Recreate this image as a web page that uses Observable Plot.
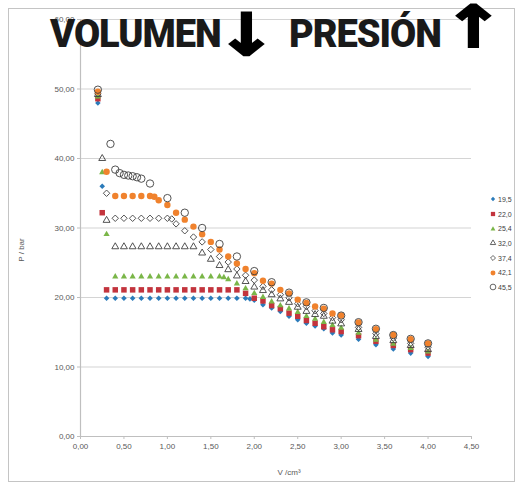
<!DOCTYPE html>
<html><head><meta charset="utf-8">
<script src="https://cdn.jsdelivr.net/npm/d3@7"></script>
<script src="https://cdn.jsdelivr.net/npm/@observablehq/plot@0.6"></script>
<style>
body{margin:0;background:#fff;}
#wrap{position:relative;width:520px;height:482px;overflow:hidden;background:#fff;}
#chart{position:absolute;left:0;top:0;}
#frame{position:absolute;left:8px;top:8px;width:507px;height:474px;border:1.5px solid #c4c4c4;box-sizing:border-box;pointer-events:none;}
.tt{position:absolute;font-family:Roboto,'Noto Sans',sans-serif;font-weight:900;font-size:38px;line-height:38px;color:#1a1a1a;letter-spacing:-1px;white-space:nowrap;}
.ar{position:absolute;font-family:'DejaVu Sans',sans-serif;font-weight:bold;font-size:58px;line-height:30px;color:#000;-webkit-text-stroke:2.2px #000;transform:scaleX(1.25);transform-origin:center;}
.lab{position:absolute;font-family:'Liberation Sans',Arial,sans-serif;font-size:8px;color:#595959;white-space:nowrap;}
#legend{position:absolute;left:489px;top:192px;font-family:'Liberation Sans',Arial,sans-serif;font-size:7px;color:#404040;}
#legend .row{display:flex;align-items:center;height:14.7px;}
#legend svg{width:8px;height:8px;margin-right:1px;overflow:visible;}
</style></head><body>
<div id="wrap">
  <div id="chart"></div>
  <div id="frame"></div>
  <div id="legend"></div>
  <div class="lab" id="ylab" style="left:21px;top:250px;transform:translate(-50%,-50%) rotate(-90deg);">P / bar</div>
  <div class="lab" id="xlab" style="left:289px;top:472px;transform:translate(-50%,-50%);">V /cm³</div>
  <div class="tt" style="left:50px;top:15px;">VOLUMEN</div>
  <div class="ar" style="left:222px;top:19.5px;">↓</div>
  <div class="tt" style="left:289px;top:15px;">PRESIÓN</div>
  <div class="ar" style="left:449px;top:11.5px;">↑</div>
</div>
<script>
// ---- data ----
const seriesNames = ["19,5","22,0","25,4","32,0","37,4","42,1","45,5"];

const v195 = [0.2,0.25,0.3,0.4,0.5,0.6,0.7,0.8,0.9,1.0,1.1,1.2,1.3,1.4,1.5,1.6,1.7,1.8,1.9,1.95,2.0,2.1,2.2,2.3,2.4,2.5,2.6,2.7,2.8,2.9,3.0,3.2,3.4,3.6,3.8,4.0];
const p195 = [48.0,36.0,19.9,19.9,19.9,19.9,19.9,19.9,19.9,19.9,19.9,19.9,19.9,19.9,19.9,19.9,19.9,19.9,19.9,19.8,19.6,18.95,18.5,18.0,17.3,16.8,16.3,15.9,15.5,14.9,14.6,14.0,13.2,12.6,12.0,11.5];

const v220 = [0.2,0.25,0.3,0.4,0.5,0.6,0.7,0.8,0.9,1.0,1.1,1.2,1.3,1.4,1.5,1.6,1.7,1.8,1.9,2.0,2.1,2.2,2.3,2.4,2.5,2.6,2.7,2.8,2.9,3.0,3.2,3.4,3.6,3.8,4.0];
const p220 = [48.6,32.2,21.1,21.1,21.1,21.1,21.1,21.1,21.1,21.1,21.1,21.1,21.1,21.1,21.1,21.1,21.1,21.1,20.6,19.9,19.5,18.85,18.4,17.75,17.3,16.7,16.3,15.8,15.35,15.1,14.5,13.7,13.1,12.5,12.0];

const v254 = [0.2,0.25,0.3,0.4,0.5,0.6,0.7,0.8,0.9,1.0,1.1,1.2,1.3,1.4,1.5,1.6,1.65,1.7,1.8,1.9,2.0,2.1,2.2,2.3,2.4,2.5,2.6,2.7,2.8,2.9,3.0,3.2,3.4,3.6,3.8,4.0];
const p254 = [48.9,38.0,29.1,23.0,23.0,23.0,23.0,23.0,23.0,23.0,23.0,23.0,23.0,23.0,23.0,23.0,22.9,22.6,22.0,21.3,20.6,20.05,19.4,18.85,18.4,17.9,17.3,16.9,16.45,16.0,15.6,14.9,13.9,13.3,12.7,12.2];

const v320 = [0.2,0.25,0.3,0.4,0.5,0.6,0.7,0.8,0.9,1.0,1.1,1.2,1.3,1.4,1.5,1.6,1.7,1.8,1.9,2.0,2.1,2.2,2.3,2.4,2.5,2.6,2.7,2.8,2.9,3.0,3.2,3.4,3.6,3.8,4.0];
const p320 = [49.2,40.0,31.1,27.3,27.3,27.3,27.3,27.3,27.3,27.3,27.3,27.3,27.3,26.4,25.5,24.6,24.0,23.1,22.3,21.5,21.0,20.4,19.8,19.3,18.6,18.0,17.55,17.3,16.6,16.2,15.4,14.4,13.8,13.1,12.5];

const v374 = [0.2,0.3,0.4,0.5,0.6,0.7,0.8,0.9,1.0,1.05,1.1,1.2,1.3,1.4,1.5,1.6,1.7,1.8,1.9,2.0,2.1,2.2,2.3,2.4,2.5,2.6,2.7,2.8,2.9,3.0,3.2,3.4,3.6,3.8,4.0];
const p374 = [49.3,35.0,31.4,31.4,31.4,31.4,31.4,31.4,31.4,31.3,30.6,29.6,28.7,28.0,26.9,25.9,25.1,24.1,23.2,22.5,21.6,21.1,20.4,19.95,19.1,18.7,18.1,17.7,17.1,16.8,15.7,14.8,14.15,13.4,12.85];

const v421 = [0.2,0.3,0.4,0.5,0.6,0.7,0.8,0.85,0.9,1.0,1.1,1.2,1.3,1.4,1.5,1.6,1.7,1.8,1.9,2.0,2.1,2.2,2.3,2.4,2.5,2.6,2.7,2.8,2.9,3.0,3.2,3.4,3.6,3.8,4.0];
const p421 = [49.6,38.1,34.6,34.6,34.6,34.6,34.6,34.5,34.0,33.3,32.2,31.2,30.2,29.1,28.0,26.9,25.9,24.9,24.1,23.5,22.4,22.0,21.1,20.6,19.7,19.2,18.7,18.4,17.7,17.4,16.4,15.45,14.6,14.0,13.4];

const v455 = [0.2,0.345,0.4,0.45,0.5,0.55,0.6,0.65,0.7,0.8,1.0,1.2,1.4,1.6,1.8,2.0,2.2,2.4,2.6,2.8,3.0,3.2,3.4,3.6,3.8,4.0];
const p455 = [49.9,42.1,38.4,37.9,37.65,37.55,37.45,37.3,37.1,36.4,34.3,32.2,30.0,27.7,25.9,23.8,22.2,20.7,19.3,18.5,17.4,16.45,15.5,14.6,14.05,13.4];

const yTicks = [0,10,20,30,40,50,60];
const xTicks = [0,0.5,1,1.5,2,2.5,3,3.5,4,4.5];

// ---- styles ----
const dark = "#404040";
const styles = [
  {symbol:"diamond2", fill:"#2b7bba", stroke:"none", r:2.5},
  {symbol:"square",   fill:"#c3343d", stroke:"none", r:3.1},
  {symbol:"triangle", fill:"#7ab648", stroke:"none", r:2.3},
  {symbol:"triangle2",fill:"none", stroke:dark, r:3.3},
  {symbol:"diamond2", fill:"none", stroke:dark, r:2.9},
  {symbol:"circle",   fill:"#f0822d", stroke:"none", r:3.2},
  {symbol:"circle",   fill:"none", stroke:dark, r:3.7}
];
const vs = [v195,v220,v254,v320,v374,v421,v455];
const ps = [p195,p220,p254,p320,p374,p421,p455];
const tables = vs.map((v,i) => v.map((x,j) => ({V:x, P:ps[i][j], s:seriesNames[i]})));

const fmt = d => d.toFixed(2).replace(".", ",");

const chart = Plot.plot({
  width: 520, height: 482,
  marginLeft: 80, marginRight: 49, marginTop: 19, marginBottom: 46,
  x: {domain:[0,4.5]},
  y: {domain:[0,60]},
  style: {fontFamily:"'Liberation Sans', Arial, sans-serif", fontSize:"8px", color:"#595959", background:"transparent", overflow:"visible"},
  marks: [
    Plot.gridY(yTicks.filter(d => d > 0), {stroke:"#d4d4d4", strokeOpacity:1, strokeWidth:1.2}),
    Plot.ruleY([0], {stroke:"#bfbfbf", strokeWidth:1.2}),
    Plot.ruleX([0], {stroke:"#bfbfbf", strokeWidth:1.2}),
    Plot.axisY({ticks:yTicks, tickFormat:fmt, tickSize:3, tickPadding:3, stroke:"#bfbfbf", label:null}),
    Plot.axisX({ticks:xTicks, tickFormat:fmt, tickSize:3, tickPadding:4, stroke:"#bfbfbf", label:null}),
    ...tables.map((t,i) => Plot.dot(t, {x:"V", y:"P", symbol:styles[i].symbol, fill:styles[i].fill, stroke:styles[i].stroke, r:styles[i].r, strokeWidth:0.9}))
  ]
});
document.getElementById("chart").appendChild(chart);

// ---- legend ----
const leg = d3.select("#legend");
const symMap = {diamond2:d3.symbolDiamond2, square:d3.symbolSquare, triangle:d3.symbolTriangle, triangle2:d3.symbolTriangle2, circle:d3.symbolCircle};
seriesNames.forEach((name,i) => {
  const st = styles[i];
  const row = leg.append("div").attr("class","row");
  const svg = row.append("svg").attr("viewBox","-4 -4 8 8");
  svg.append("path")
    .attr("d", d3.symbol(symMap[st.symbol], Math.PI*st.r*st.r*0.6)())
    .attr("fill", st.fill).attr("stroke", st.stroke === "none" ? null : st.stroke).attr("stroke-width",0.8);
  row.append("span").text(name);
});
</script>
</body></html>
